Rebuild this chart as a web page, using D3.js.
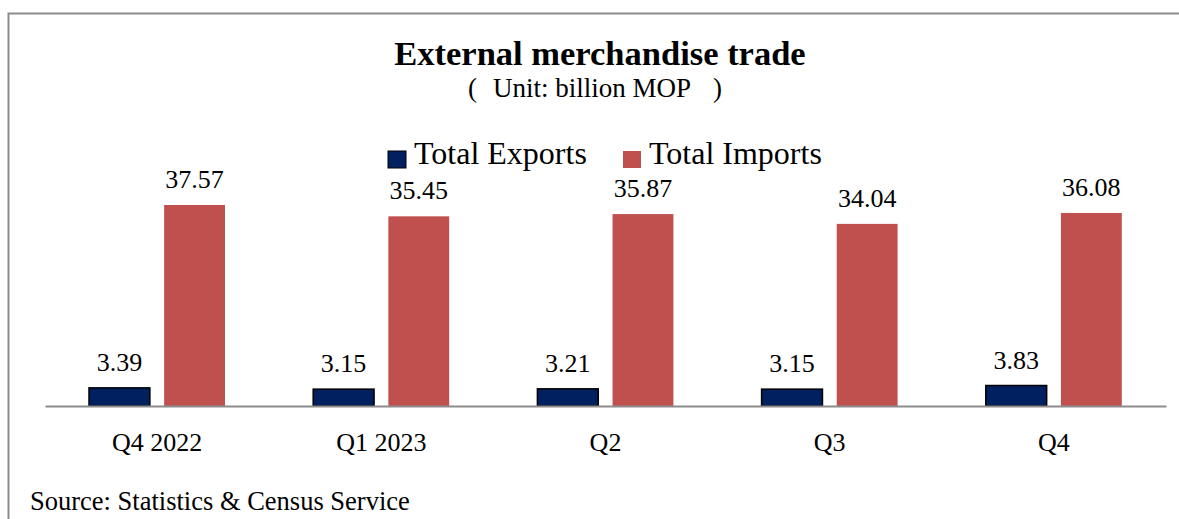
<!DOCTYPE html>
<html>
<head>
<meta charset="utf-8">
<script src="https://cdn.jsdelivr.net/npm/d3@7"></script>
<style>
  body { margin: 0; background: #fff; }
  text { font-family: "Liberation Serif", "Times New Roman", serif; fill: #000; }
</style>
</head>
<body>
<script>
"use strict"

/* categorie (trimestri) */
const trimestri = ["Q4 2022", "Q1 2023", "Q2", "Q3", "Q4"];
/* serie */
const serie = ["Total Exports", "Total Imports"];
const esportazioni = [3.39, 3.15, 3.21, 3.15, 3.83];
const importazioni = [37.57, 35.45, 35.87, 34.04, 36.08];
const coloriSerie = ["#002060", "#C0504D"];

const grafico = { larghezza: 1179, altezza: 519 };

const svg = d3.select("body")
    .append("svg")
    .attr("width", grafico.larghezza)
    .attr("height", grafico.altezza);

/* cornice grigia (esce dal bordo destro e inferiore) */
svg.append("rect")
    .attr("x", 8.5).attr("y", 13.5)
    .attr("width", 1200).attr("height", 600)
    .attr("fill", "none")
    .attr("stroke", "#8c8c8c")
    .attr("stroke-width", 2);

/* titolo */
svg.append("text")
    .attr("x", 600).attr("y", 65)
    .attr("text-anchor", "middle")
    .style("font-size", "34.5px")
    .style("font-weight", "bold")
    .text("External merchandise trade");
const sottotitolo = svg.append("g").style("font-size", "27px");
sottotitolo.append("text")
    .attr("x", 468).attr("y", 97)
    .text("(");
sottotitolo.append("text")
    .attr("x", 493).attr("y", 97)
    .text("Unit: billion MOP");
sottotitolo.append("text")
    .attr("x", 722).attr("y", 97)
    .attr("text-anchor", "end")
    .text(")");

/* scale */
const x0 = d3.scaleBand()
    .domain(trimestri)
    .range([45, 1166]);
const x1 = d3.scaleBand()
    .domain(serie)
    .range([44, 180])
    .paddingInner(0.19);
const y = d3.scaleLinear()
    .domain([0, 40])
    .range([406, 192]);

/* dati per gruppi */
const dati = trimestri.map(function (t, i) {
    return { trimestre: t, valori: [esportazioni[i], importazioni[i]] };
});

const gruppi = svg.selectAll("g.gruppo")
    .data(dati)
    .enter()
    .append("g")
    .attr("class", "gruppo")
    .attr("transform", function (d) { return "translate(" + x0(d.trimestre) + ",0)" });

gruppi.selectAll("rect")
    .data(function (d) {
        return d.valori.map(function (v, j) { return { serie: serie[j], valore: v, j: j } })
    })
    .enter()
    .append("rect")
    .attr("x", function (d) { return x1(d.serie) })
    .attr("y", function (d) { return y(d.valore) })
    .attr("width", x1.bandwidth())
    .attr("height", function (d) { return y(0) - y(d.valore) })
    .attr("fill", function (d) { return coloriSerie[d.j] })
    .attr("stroke", function (d) { return d.j == 0 ? "#000" : "none" })
    .attr("stroke-width", 1.5);

/* etichette valori */
gruppi.selectAll("text.valore")
    .data(function (d) {
        return d.valori.map(function (v, j) { return { serie: serie[j], valore: v } })
    })
    .enter()
    .append("text")
    .attr("class", "valore")
    .attr("x", function (d) { return x1(d.serie) + x1.bandwidth() / 2 })
    .attr("y", function (d) { return y(d.valore) - 17 })
    .attr("text-anchor", "middle")
    .style("font-size", "26px")
    .text(function (d) { return d.valore.toFixed(2) });

/* asse x */
const asse = svg.append("g")
    .attr("transform", "translate(0," + y(0) + ")")
    .call(d3.axisBottom(x0).tickSize(0).tickPadding(27));
asse.select(".domain")
    .attr("stroke", "#8c8c8c")
    .attr("stroke-width", 2);
asse.selectAll("text")
    .style("font-size", "26px")
    .style("font-family", "'Liberation Serif', 'Times New Roman', serif")
    .attr("fill", "#000");

/* legenda */
const legenda = svg.append("g");
const posLegenda = [388, 623];
serie.forEach(function (s, j) {
    legenda.append("rect")
        .attr("x", posLegenda[j]).attr("y", 151)
        .attr("width", 18).attr("height", 17)
        .attr("fill", coloriSerie[j])
        .attr("stroke", j == 0 ? "#000" : "none")
        .attr("stroke-width", 1);
    legenda.append("text")
        .attr("x", posLegenda[j] + 26).attr("y", 164)
        .style("font-size", "32px")
        .text(s);
});

/* fonte */
svg.append("text")
    .attr("x", 30).attr("y", 510)
    .style("font-size", "26.5px")
    .text("Source: Statistics & Census Service");
</script>
</body>
</html>
